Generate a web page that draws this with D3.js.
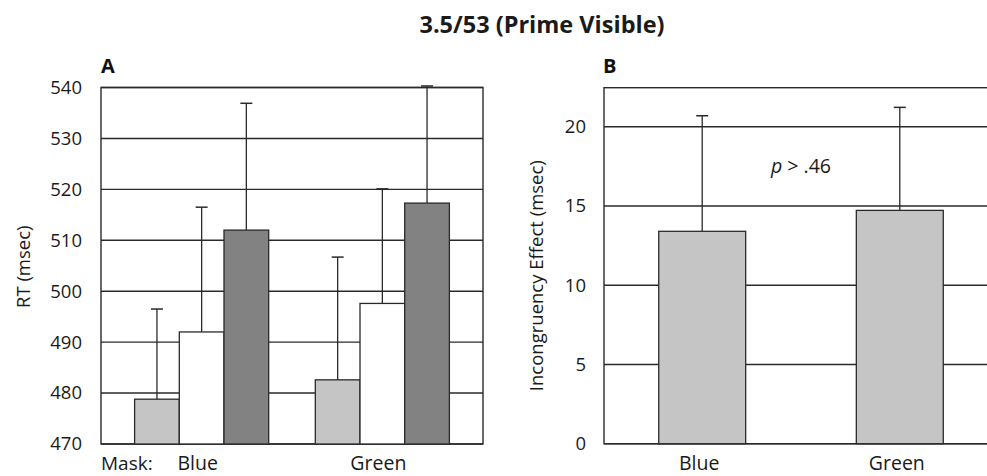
<!DOCTYPE html>
<html>
<head>
<meta charset="utf-8">
<script src="https://cdn.jsdelivr.net/npm/d3@7"></script>
<style>
  html, body { margin: 0; padding: 0; background: #fff; }
  svg { display: block; font-family: "Open Sans", "Noto Sans", sans-serif; }
</style>
</head>
<body>
<svg id="chart" width="987" height="476"></svg>
<script>
// ---- Data ----
const groups = ["Blue", "Green"];
const conditions = ["c1", "c2", "c3"];
const rtMeans = [[478.8, 492.0, 512.0], [482.6, 497.6, 517.3]];
const rtErrTop = [[496.5, 516.5, 536.9], [506.7, 520.1, 540.3]];
const rtTicks = [470, 480, 490, 500, 510, 520, 530, 540];
const effMeans = [13.4, 14.72];
const effErrTop = [20.69, 21.22];
const effTicks = [0, 5, 10, 15, 20];
const condColors = ["#c4c5c4", "#ffffff", "#828282"];
const effColor = "#c4c5c4";

const svg = d3.select("#chart");
const stroke = "#2a2a2a";
const tickSize = 18.5;
const labelSize = 19.5;
const titleSize = 18.5;
const textColor = "#1a1a1a";

// title
svg.append("text").attr("x", 542).attr("y", 33).attr("text-anchor", "middle")
  .attr("font-weight", "bold").attr("font-size", 23.5).attr("fill", textColor)
  .text("3.5/53 (Prime Visible)");

// ---------- Panel A ----------
const A = { left: 101, right: 483, top: 87.5, bottom: 444 };
const yA = d3.scaleLinear().domain([470, 540]).range([A.bottom, A.top]);
const xA = d3.scaleBand().domain(groups).range([A.left, A.right])
  .paddingInner(0.258).paddingOuter(0.186);
const xAin = d3.scaleBand().domain(conditions).range([0, xA.bandwidth()]);

const gA = svg.append("g");
gA.append("g").selectAll("line").data(rtTicks).join("line")
  .attr("x1", A.left).attr("x2", A.right)
  .attr("y1", d => yA(d)).attr("y2", d => yA(d))
  .attr("stroke", stroke).attr("stroke-width", 1.4);
gA.append("rect").attr("x", A.left).attr("y", A.top)
  .attr("width", A.right - A.left).attr("height", A.bottom - A.top)
  .attr("fill", "none").attr("stroke", stroke).attr("stroke-width", 1.4);

groups.forEach((g, gi) => {
  conditions.forEach((c, ci) => {
    const cx = xA(g) + xAin(c) + xAin.bandwidth() / 2;
    gA.append("line").attr("x1", cx).attr("x2", cx)
      .attr("y1", yA(rtMeans[gi][ci])).attr("y2", yA(rtErrTop[gi][ci]))
      .attr("stroke", stroke).attr("stroke-width", 1.3);
    gA.append("line").attr("x1", cx - 6).attr("x2", cx + 6)
      .attr("y1", yA(rtErrTop[gi][ci])).attr("y2", yA(rtErrTop[gi][ci]))
      .attr("stroke", stroke).attr("stroke-width", 1.5);
  });
});
groups.forEach((g, gi) => {
  gA.append("g").selectAll("rect").data(rtMeans[gi]).join("rect")
    .attr("x", (d, i) => xA(g) + xAin(conditions[i]))
    .attr("y", d => yA(d))
    .attr("width", xAin.bandwidth())
    .attr("height", d => yA(470) - yA(d))
    .attr("fill", (d, i) => condColors[i])
    .attr("stroke", stroke).attr("stroke-width", 1.3);
});
const axA = d3.axisLeft(yA).tickValues(rtTicks).tickSize(0).tickPadding(19);
const axAg = gA.append("g").attr("transform", `translate(${A.left},0)`).call(axA);
axAg.select(".domain").remove();
axAg.selectAll("text").attr("font-size", tickSize).attr("fill", textColor)
  .attr("font-family", "Open Sans, sans-serif");
const axAx = d3.axisBottom(xA).tickSize(0).tickPadding(12);
const axAxg = gA.append("g").attr("transform", `translate(0,${A.bottom})`).call(axAx);
axAxg.select(".domain").remove();
axAxg.selectAll("text").attr("font-size", labelSize).attr("fill", textColor)
  .attr("font-family", "Open Sans, sans-serif").attr("dx", -4);
gA.append("text").attr("x", A.left).attr("y", 470).attr("font-size", 19)
  .attr("fill", textColor).text("Mask:");
gA.append("text").attr("x", A.left).attr("y", 73).attr("font-size", 20)
  .attr("font-weight", "bold").attr("fill", "#111").text("A");
gA.append("text").attr("transform", `translate(30,${(A.top + A.bottom) / 2 + 1}) rotate(-90)`)
  .attr("text-anchor", "middle").attr("font-size", titleSize).attr("fill", textColor)
  .text("RT (msec)");

// ---------- Panel B ----------
const B = { left: 604, right: 998, top: 87.7, bottom: 443.7 };
const yB = d3.scaleLinear().domain([0, 22.46]).range([B.bottom, B.top]);
const xB = d3.scaleBand().domain(groups).range([B.left, B.right])
  .paddingInner(0.56).paddingOuter(0.277);
const gB = svg.append("g");
gB.append("g").selectAll("line").data(effTicks).join("line")
  .attr("x1", B.left).attr("x2", B.right)
  .attr("y1", d => yB(d)).attr("y2", d => yB(d))
  .attr("stroke", stroke).attr("stroke-width", 1.4);
gB.append("rect").attr("x", B.left).attr("y", B.top)
  .attr("width", B.right - B.left).attr("height", B.bottom - B.top)
  .attr("fill", "none").attr("stroke", stroke).attr("stroke-width", 1.4);
groups.forEach((g, gi) => {
  const cx = xB(g) + xB.bandwidth() / 2;
  gB.append("line").attr("x1", cx).attr("x2", cx)
    .attr("y1", yB(effMeans[gi])).attr("y2", yB(effErrTop[gi]))
    .attr("stroke", stroke).attr("stroke-width", 1.3);
  gB.append("line").attr("x1", cx - 6).attr("x2", cx + 6)
    .attr("y1", yB(effErrTop[gi])).attr("y2", yB(effErrTop[gi]))
    .attr("stroke", stroke).attr("stroke-width", 1.5);
});
gB.append("g").selectAll("rect").data(effMeans).join("rect")
  .attr("x", (d, i) => xB(groups[i]))
  .attr("y", d => yB(d))
  .attr("width", xB.bandwidth())
  .attr("height", d => yB(0) - yB(d))
  .attr("fill", effColor).attr("stroke", stroke).attr("stroke-width", 1.3);
const axB = d3.axisLeft(yB).tickValues(effTicks).tickSize(0).tickPadding(18);
const axBg = gB.append("g").attr("transform", `translate(${B.left},0)`).call(axB);
axBg.select(".domain").remove();
axBg.selectAll("text").attr("font-size", tickSize).attr("fill", textColor)
  .attr("font-family", "Open Sans, sans-serif");
const axBx = d3.axisBottom(xB).tickSize(0).tickPadding(12);
const axBxg = gB.append("g").attr("transform", `translate(0,${B.bottom})`).call(axBx);
axBxg.select(".domain").remove();
axBxg.selectAll("text").attr("font-size", labelSize).attr("fill", textColor)
  .attr("font-family", "Open Sans, sans-serif").attr("dx", -3);
gB.append("text").attr("x", B.left - 1).attr("y", 73).attr("font-size", 20)
  .attr("font-weight", "bold").attr("fill", "#111").text("B");
gB.append("text").attr("transform", `translate(543,${(B.top + B.bottom) / 2 + 10}) rotate(-90)`)
  .attr("text-anchor", "middle").attr("font-size", titleSize).attr("fill", textColor)
  .text("Incongruency Effect (msec)");
const pText = gB.append("text")
  .attr("x", (xB("Blue") + xB("Green") + xB.bandwidth()) / 2)
  .attr("y", yB(17.1)).attr("text-anchor", "middle")
  .attr("font-size", 19.5).attr("fill", textColor);
pText.append("tspan").attr("font-style", "italic").text("p");
pText.append("tspan").text(" > .46");
</script>
</body>
</html>
